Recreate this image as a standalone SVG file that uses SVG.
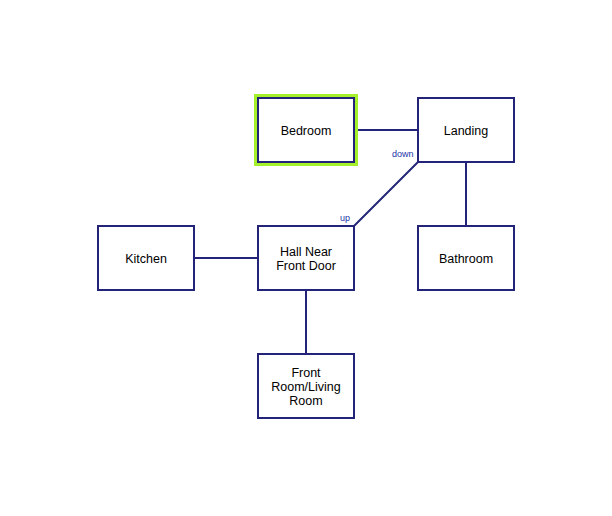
<svg xmlns="http://www.w3.org/2000/svg" width="612" height="516" viewBox="0 0 612 516">
<style>
.box{fill:#fff;stroke:#23237a;stroke-width:2}
.lbl{font-family:"Liberation Sans",Arial,sans-serif;font-size:12.5px;fill:#000;text-anchor:middle}
.edge{stroke:#23237a;stroke-width:2;fill:none}
.el{font-family:"Liberation Sans",Arial,sans-serif;font-size:9px;fill:#2233aa}
</style>
<rect width="612" height="516" fill="#fff"/>
<g id="connectors">
<line class="edge" x1="354" y1="130" x2="418" y2="130"/>
<line class="edge" x1="466" y1="162" x2="466" y2="226"/>
<line class="edge" x1="194" y1="258" x2="258" y2="258"/>
<line class="edge" x1="306" y1="290" x2="306" y2="354"/>
<line class="edge" x1="418" y1="162" x2="354" y2="226"/>
<text class="el" x="392" y="157">down</text>
<text class="el" x="340" y="221">up</text>
</g>
<g id="bedroom">
<rect x="256" y="96" width="100" height="68" fill="none" stroke="#a4f02a" stroke-width="4"/>
<rect class="box" x="258" y="98" width="96" height="64"/>
<text class="lbl" x="306" y="135">Bedroom</text>
</g>
<g id="landing">
<rect class="box" x="418" y="98" width="96" height="64"/>
<text class="lbl" x="466" y="135">Landing</text>
</g>
<g id="kitchen">
<rect class="box" x="98" y="226" width="96" height="64"/>
<text class="lbl" x="146" y="263">Kitchen</text>
</g>
<g id="hall">
<rect class="box" x="258" y="226" width="96" height="64"/>
<text class="lbl" x="306" y="256">Hall Near</text>
<text class="lbl" x="306" y="270">Front Door</text>
</g>
<g id="bathroom">
<rect class="box" x="418" y="226" width="96" height="64"/>
<text class="lbl" x="466" y="263">Bathroom</text>
</g>
<g id="frontroom">
<rect class="box" x="258" y="354" width="96" height="64"/>
<text class="lbl" x="306" y="377">Front</text>
<text class="lbl" x="306" y="391">Room/Living</text>
<text class="lbl" x="306" y="405">Room</text>
</g>
</svg>
